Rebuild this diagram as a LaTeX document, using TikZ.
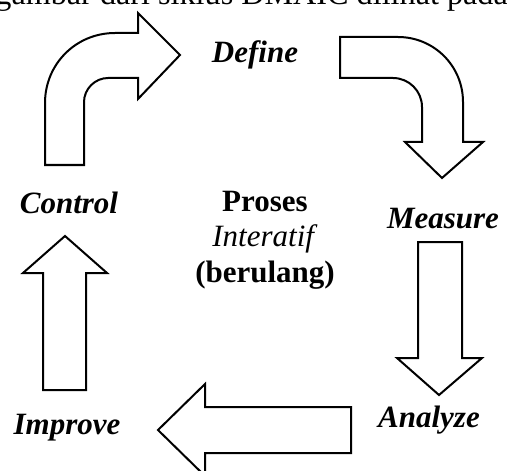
\documentclass[tikz,border=0pt]{standalone}
\usepackage{fontspec}
\setmainfont{Liberation Serif}

\tikzset{
  blockarrow/.style={draw=black, line width=1pt, fill=white, line join=miter},
  stage/.style={font=\fontsize{15.5}{18}\selectfont\bfseries\itshape, anchor=base, inner sep=0pt},
}

\begin{document}
\begin{tikzpicture}[x=0.5pt, y=-0.5pt]
      \useasboundingbox (0,0) rectangle (507,470);
      \clip (0,0) rectangle (507,470);
      % cut-off line of the page above
      \node[font=\fontsize{16.1}{19}\selectfont, anchor=base west, inner sep=0pt] (caption) at (-5,5) {gambar dari siklus DMAIC dilihat pada};
      % Control -> Define
      \draw[blockarrow] (45,165) -- (45,103) .. controls (45,64) and (76,33) .. (115,33)
        -- (138,33) -- (138,13) -- (180,55) -- (138,99) -- (138,78) -- (108,78)
        .. controls (95,78) and (84,89) .. (84,102) -- (84,165) -- cycle;
      % Define -> Measure
      \draw[blockarrow] (340,37) -- (398,37) .. controls (434,37) and (463,66) .. (463,102)
        -- (463,142) -- (483,142) -- (442,178) -- (405,142) -- (422,142) -- (422,107)
        .. controls (422,91) and (409,78) .. (393,78) -- (340,78) -- cycle;
      % Measure -> Analyze
      \draw[blockarrow] (418,242) -- (462,242) -- (462,358) -- (482,358) -- (439,395)
        -- (397,358) -- (418,358) -- cycle;
      % Analyze -> Improve
      \draw[blockarrow] (351,407) -- (351,453) -- (205,453) -- (205,476) -- (158,430)
        -- (205,384) -- (205,407) -- cycle;
      % Improve -> Control
      \draw[blockarrow] (43,390) -- (43,273) -- (23,273) -- (65,236) -- (107,273)
        -- (86,273) -- (86,390) -- cycle;
      % stage names
      \node[stage] (define)  at (255,63)  {Define};
      \node[stage] (measure) at (443,228) {Measure};
      \node[stage] (analyze) at (429,427) {Analyze};
      \node[stage] (improve) at (67,434)  {Improve};
      \node[stage] (control) at (69,213)  {Control};
      % centre text
      \node[font=\fontsize{15.5}{17.75}\selectfont, align=center, inner sep=0pt] (proses) at (265,240)
        {\textbf{Proses}\\ \textit{Interatif}\\ \textbf{(berulang)}};
\end{tikzpicture}
\end{document}
